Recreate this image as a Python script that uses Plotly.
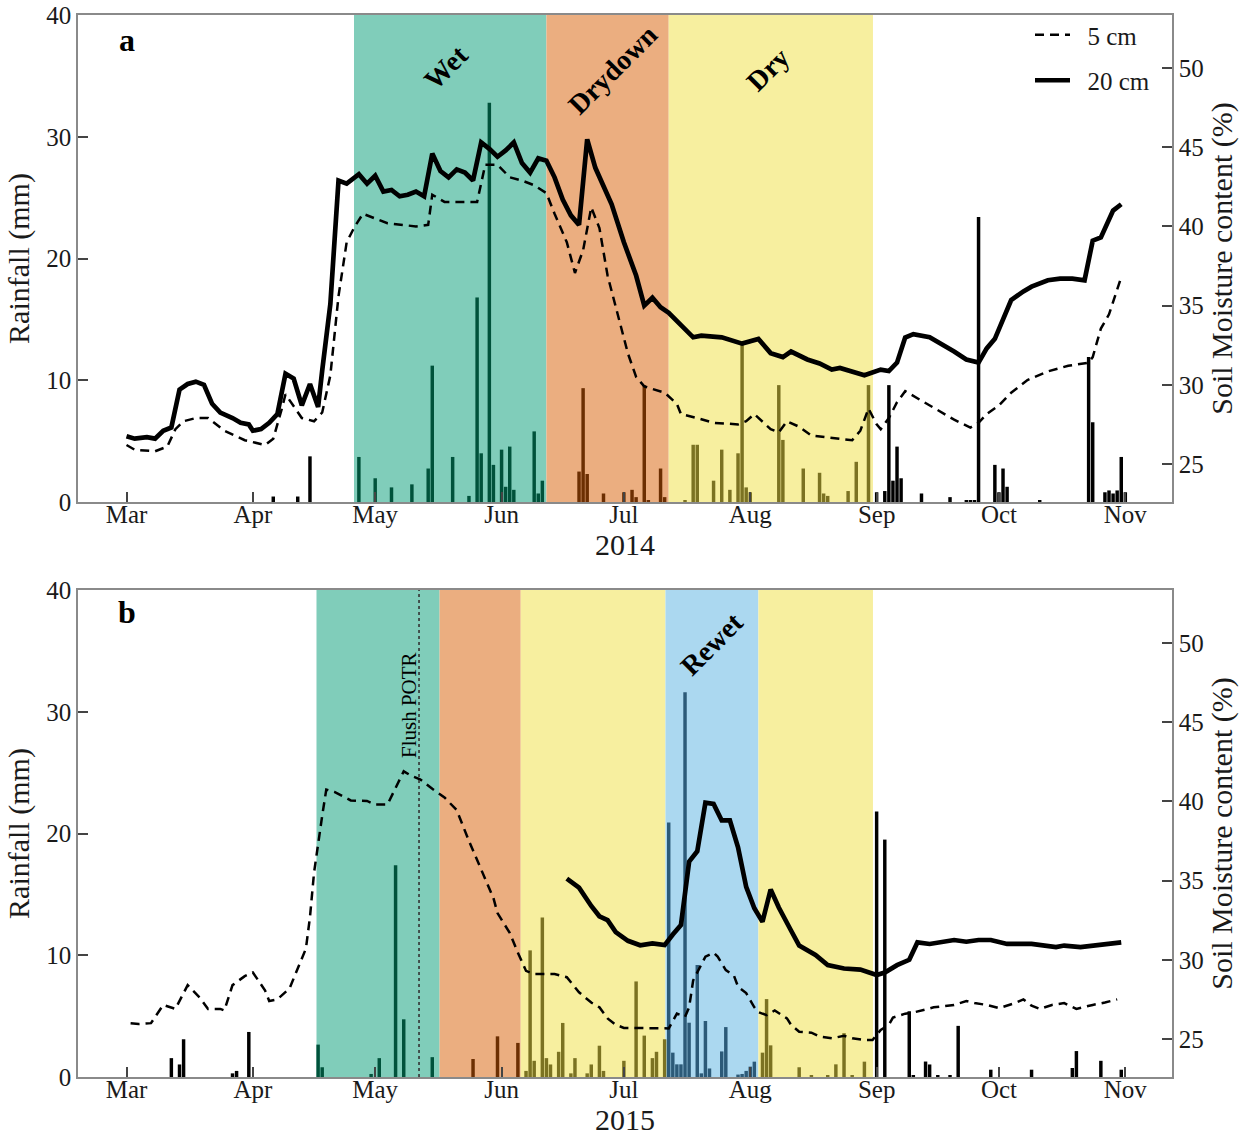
import plotly.graph_objects as go
import pandas as pd

# ---------------- data ----------------
month_labels = ["Mar", "Apr", "May", "Jun", "Jul", "Aug", "Sep", "Oct", "Nov"]
month_days = [0, 31, 61, 92, 122, 153, 184, 214, 245]   # days since 1 March

# Panel a (2014) daily rainfall, days since 1 March
rain14_day = [36, 42, 45, 57, 61, 65, 70, 74, 75, 80, 84, 86, 87, 89, 90, 92, 93, 94, 95, 100, 101, 102,
              111, 112, 113, 117, 122, 124, 125, 127, 128, 131, 132,
              137, 139, 140, 144, 146, 148, 150, 151, 152, 153, 160, 161, 166, 170, 171, 172, 177, 179, 182,
              184, 186, 187, 188, 189, 190, 195, 202, 206, 207, 208, 209, 213, 214, 215, 216, 224, 236, 237,
              240, 241, 242, 243, 244, 245]
rain14_mm = [0.45, 0.45, 3.75, 3.7, 1.95, 1.2, 1.45, 2.75, 11.2, 3.7, 0.5, 16.8, 4.0, 32.8, 3.05, 4.3, 1.25, 4.55, 1.0, 5.8, 0.7, 1.75,
             2.5, 9.35, 2.3, 0.7, 0.8, 1.0, 0.4, 9.6, 0.1, 2.75, 0.4,
             0.1, 4.7, 4.7, 1.75, 4.3, 1.0, 4.0, 13.0, 1.2, 0.8, 9.6, 5.1, 2.75, 2.4, 0.7, 0.5, 0.9, 3.3, 9.6,
             0.8, 0.9, 9.6, 1.75, 4.55, 1.95, 0.7, 0.4, 0.1, 0.1, 0.1, 23.4, 3.05, 0.8, 2.75, 1.25, 0.1, 11.9, 6.55,
             0.8, 0.95, 0.7, 0.95, 3.7, 0.8]

# Panel a soil moisture (%), 5 cm and 20 cm
sm5_14_day = [0, 2, 7, 10, 12, 14, 17, 20, 24, 29, 34, 36, 38, 39, 43, 46, 48, 50, 52, 54,
              56, 58, 64, 67, 71, 74, 75, 78, 82, 86, 88, 91, 94, 97, 100, 103, 105, 108, 110, 112,
              114, 116, 118, 121, 123, 125, 127, 132, 135, 136, 140, 144, 150, 152, 154, 158, 160, 162, 165, 168,
              171, 175, 178, 180, 182, 184, 185, 187, 189, 191, 195, 199, 203, 207, 209, 211, 214, 217, 221, 226,
              231, 236, 237, 239, 241, 244]
sm5_14 = [26.2, 25.9, 25.8, 26.1, 27.2, 27.7, 27.9, 27.9, 27.1, 26.5, 26.2, 26.6, 28.4, 29.4, 27.9, 27.7, 28.25, 30.6, 35.6, 39.0,
          40.0, 40.8, 40.2, 40.1, 40.0, 40.1, 42.0, 41.55, 41.55, 41.55, 43.9, 43.9, 43.1, 42.9, 42.6, 42.1, 40.8, 39.0, 37.06, 38.5,
          41.2, 39.9, 36.9, 34.0, 31.97, 30.5, 29.9, 29.5, 28.8, 28.15, 27.9, 27.6, 27.5, 27.7, 28.15, 27.2, 27.0, 27.7, 27.35, 26.8,
          26.7, 26.6, 26.5, 27.1, 28.5, 27.5, 27.2, 27.9, 28.9, 29.6, 29.0, 28.4, 27.8, 27.3, 27.6, 28.15, 28.7, 29.5, 30.3, 30.85,
          31.2, 31.4, 31.75, 33.55, 34.45, 36.8]
sm20_14_day = [0, 2, 5, 7, 9, 11, 13, 15, 17, 19, 21, 23, 26, 28, 30, 31, 33, 35, 37, 39,
               41, 43, 45, 47, 48, 50, 52, 54, 57, 59, 61, 63, 65, 67, 69, 71, 73, 75, 77, 79,
               81, 83, 85, 87, 89, 91, 93, 95, 97, 99, 101, 103, 105, 107, 109, 111, 113, 115, 119, 122,
               125, 127, 129, 131, 133, 136, 139, 141, 146, 151, 155, 158, 161, 163, 167, 170, 173, 175, 178, 181,
               185, 187, 189, 191, 193, 197, 203, 206, 209, 211, 213, 215, 217, 220, 222, 226, 229, 232, 235, 237,
               239, 242, 244]
sm20_14 = [26.75, 26.6, 26.7, 26.6, 27.1, 27.3, 29.7, 30.05, 30.2, 30.0, 28.8, 28.25, 27.9, 27.6, 27.5, 27.1, 27.2, 27.6, 28.15, 30.7,
           30.4, 28.7, 30.05, 28.6, 30.9, 35.1, 42.9, 42.7, 43.3, 42.7, 43.2, 42.2, 42.3, 41.9, 42.0, 42.2, 41.9, 44.6, 43.5, 43.1,
           43.6, 43.4, 42.9, 45.3, 44.9, 44.4, 44.8, 45.3, 44.0, 43.4, 44.3, 44.15, 43.1, 41.7, 40.7, 40.1, 45.5, 43.7, 41.4, 39.0,
           36.9, 35.0, 35.5, 34.9, 34.55, 33.8, 33.0, 33.1, 33.0, 32.6, 32.9, 32.0, 31.75, 32.1, 31.6, 31.35, 30.96, 31.06, 30.85, 30.6,
           30.96, 30.87, 31.4, 32.99, 33.2, 33.0, 32.1, 31.6, 31.4, 32.3, 32.9, 34.1, 35.35, 35.9, 36.2, 36.6, 36.7, 36.7, 36.6, 39.1,
           39.3, 41.0, 41.4]

# Panel b (2015) daily rainfall
rain15_day = [11, 13, 14, 26, 27, 30, 47, 48, 60, 62, 66, 68, 75, 85, 91, 96,
              98, 99, 100, 102, 103, 104, 106, 107, 109, 110, 113, 114, 116, 117, 122, 125, 127, 129, 130, 132,
              133, 134, 135, 136, 137, 138, 140, 141, 142, 143, 146, 147, 150, 151, 152, 153, 154,
              156, 157, 158, 165, 168, 172, 174, 176, 178, 181,
              184, 186, 192, 193, 196, 197, 199, 202, 204, 212, 222, 232, 233, 239, 244]
rain15_mm = [1.55, 1.03, 3.1, 0.3, 0.5, 3.7, 2.66, 0.8, 0.25, 1.55, 17.4, 4.74, 1.63, 1.48, 3.34, 2.8,
             0.5, 10.4, 1.33, 13.1, 1.55, 1.03, 2.07, 4.44, 0.3, 1.55, 0.3, 1.03, 2.57, 0.5, 1.33, 7.85, 3.4, 1.55, 2.07, 3.1,
             20.9, 2.0, 1.04, 1.04, 31.6, 4.46, 9.2, 0.3, 4.6, 0.7, 2.1, 4.1, 0.2, 0.25, 0.5, 0.85, 1.26,
             2.0, 6.4, 2.6, 0.8, 0.15, 0.15, 1.04, 3.6, 0.15, 1.26,
             21.8, 19.5, 5.4, 0.15, 1.27, 1.03, 0.15, 0.15, 4.2, 0.6, 0.6, 0.74, 2.13, 1.33, 0.6]

sm5_15_day = [1, 3, 6, 9, 12, 15, 18, 20, 23, 24, 26, 29, 31, 34, 35, 37, 40, 42, 44, 45,
              46, 48, 49, 51, 55, 59, 61, 64, 66, 68, 70, 72, 75, 78, 81, 84, 87, 90, 91, 94,
              96, 98, 100, 105, 108, 111, 114, 116, 118, 120, 122, 127, 130, 133, 135, 137, 138, 139, 141, 142,
              144, 145, 147, 149, 150, 152, 154, 155, 157, 159, 162, 163, 165, 168, 170, 173, 176, 178, 181, 183,
              185, 187, 188, 191, 193, 198, 203, 206, 208, 211, 214, 218, 220, 222, 224, 227, 230, 233, 237, 240, 243]
sm5_15 = [26.0, 25.95, 26.0, 27.15, 26.9, 28.4, 27.6, 26.9, 26.9, 26.8, 28.4, 28.97, 29.2, 28.06, 27.4, 27.5, 28.2, 29.5, 30.7, 32.7,
          35.5, 39.1, 40.75, 40.6, 40.06, 40.03, 39.8, 39.8, 40.9, 41.9, 41.6, 41.4, 40.8, 40.25, 39.45, 37.5, 35.7, 33.9, 32.95, 31.7,
          30.45, 29.3, 29.1, 29.1, 28.9, 27.95, 27.3, 27.0, 26.3, 25.9, 25.7, 25.7, 25.67, 25.67, 26.6, 26.4, 27.0, 28.7, 29.7, 30.2,
          30.45, 30.2, 29.35, 29.0, 28.3, 27.9, 27.0, 26.7, 26.5, 26.8, 26.3, 25.9, 25.46, 25.4, 25.15, 25.04, 25.2, 25.04, 24.94, 24.94,
          25.57, 25.9, 26.35, 26.6, 26.67, 27.0, 27.15, 27.4, 27.27, 27.15, 26.95, 27.27, 27.5, 27.1, 26.9, 27.15, 27.27, 26.9, 27.15, 27.3, 27.5]
sm20_15_day = [108, 111, 114, 116, 118, 120, 123, 126, 129, 132, 134, 136, 138, 140, 142, 144, 146, 148, 150, 152,
               154, 156, 158, 160, 163, 165, 169, 172, 176, 180, 184, 186, 189, 192, 194, 197, 203, 206, 209, 212,
               216, 222, 228, 230, 234, 237, 241, 244]
sm20_15 = [35.13, 34.55, 33.4, 32.75, 32.5, 31.75, 31.2, 30.92, 31.04, 30.93, 31.6, 32.2, 36.2, 36.85, 39.92, 39.84, 38.8, 38.8, 37.1, 34.6,
           33.25, 32.4, 34.44, 33.3, 31.85, 30.9, 30.3, 29.67, 29.45, 29.38, 29.04, 29.2, 29.66, 30.0, 31.1, 31.0, 31.25, 31.14, 31.25, 31.25,
           31.0, 31.0, 30.8, 30.9, 30.8, 30.9, 30.96, 31.1]

# Phases: (label, start day, end day)
phases14 = [("Wet", 55.8, 103.0), ("Drydown", 103.0, 133.0), ("Dry", 133.0, 183.1)]
phases15 = [("Wet", 46.6, 76.8), ("Drydown", 76.8, 96.7), ("Dry", 96.7, 132.2),
            ("Rewet", 132.2, 155.0), ("Dry", 155.0, 183.1)]
flush15_day = 71.75

# ---------------- styling ----------------
phase_bg = {"Wet": "#80CDBA", "Drydown": "#EBAE80", "Dry": "#F7EF9F", "Rewet": "#ABD8F0"}
phase_bar = {"Wet": "#00523B", "Drydown": "#6C2F02", "Dry": "#7B7222", "Rewet": "#2C5A78"}
FONT = "Liberation Serif"
W, H = 1250, 1136
L, R, T, B = 78, 78, 15, 59
PW, PH = W - L - R, H - T - B
NBSP = "\u00a0"


def px(xp):
    return (xp - L) / PW


def py(yp):
    return (H - B - yp) / PH


def to_dates(year, days):
    base = pd.Timestamp(f"{year}-03-01")
    return [base + pd.Timedelta(days=float(d)) for d in days]


def bar_colors(days, phases):
    out = []
    for d in days:
        c = "#000000"
        for name, s, e in phases:
            if s <= d < e:
                c = phase_bar[name]
        out.append(c)
    return out


fig = go.Figure()
DAY_MS = 86400000

panels = [
    (2014, rain14_day, rain14_mm, sm5_14_day, sm5_14, sm20_14_day, sm20_14, phases14, "x", "y", "y2", True),
    (2015, rain15_day, rain15_mm, sm5_15_day, sm5_15, sm20_15_day, sm20_15, phases15, "x2", "y3", "y4", False),
]

for (yr, rd, rmm, d5, s5, d20, s20, ph, xa, ya, ya2, leg) in panels:
    fig.add_trace(go.Bar(x=to_dates(yr, rd), y=rmm, width=0.85 * DAY_MS,
                         marker=dict(color=bar_colors(rd, ph), line=dict(width=0)),
                         xaxis=xa, yaxis=ya, showlegend=False))
    fig.add_trace(go.Scatter(x=to_dates(yr, d5), y=s5, mode="lines", name=NBSP * 2 + "5 cm",
                             line=dict(color="black", width=2.5, dash="9px,6px"),
                             xaxis=xa, yaxis=ya2, showlegend=leg, legendgroup="g5"))
    fig.add_trace(go.Scatter(x=to_dates(yr, d20), y=s20, mode="lines", name=NBSP * 2 + "20 cm",
                             line=dict(color="black", width=4.7),
                             xaxis=xa, yaxis=ya2, showlegend=leg, legendgroup="g20"))
    for name, s, e in ph:
        d0, d1 = to_dates(yr, [s, e])
        fig.add_shape(type="rect", xref=xa, yref=f"{ya} domain", x0=d0, x1=d1, y0=0, y1=1,
                      fillcolor=phase_bg[name], line=dict(width=0), layer="below")

fd = to_dates(2015, [flush15_day])[0]
fig.add_shape(type="line", xref="x2", yref="y3 domain", x0=fd, x1=fd, y0=0, y1=1,
              line=dict(color="#333333", width=1.6, dash="dot"), layer="above")

tick_font = dict(family=FONT, size=25, color="#1a1a1a")
title_font = dict(family=FONT, size=30, color="#1a1a1a")
axis_common = dict(showline=True, linecolor="#8a8a8a", linewidth=1.5, ticks="inside", ticklen=10,
                   tickwidth=1.5, tickcolor="#444444", showgrid=False, zeroline=False,
                   tickfont=tick_font, automargin=False)

x_range14 = to_dates(2014, [-11.9, 256.45])
x_range15 = to_dates(2015, [-11.9, 256.45])

fig.update_layout(
    width=W, height=H,
    margin=dict(l=L, r=R, t=T, b=B),
    plot_bgcolor="white", paper_bgcolor="white",
    barmode="overlay",
    xaxis=dict(axis_common, type="date", range=x_range14, mirror=True, anchor="y",
               tickvals=to_dates(2014, month_days), ticktext=month_labels, ticklabelstandoff=-11,
               title=dict(text="2014", font=title_font, standoff=4)),
    yaxis=dict(axis_common, domain=[py(502), 1.0], range=[0, 40], tickvals=[0, 10, 20, 30, 40], anchor="x",
               title=dict(text="Rainfall (mm)", font=title_font, standoff=8)),
    yaxis2=dict(axis_common, overlaying="y", side="right", anchor="x", range=[22.6, 53.35],
                tickvals=[25, 30, 35, 40, 45, 50],
                title=dict(text="Soil Moisture content (%)", font=title_font, standoff=8)),
    xaxis2=dict(axis_common, type="date", range=x_range15, mirror=True, anchor="y3",
                tickvals=to_dates(2015, month_days), ticktext=month_labels, ticklabelstandoff=-11,
                title=dict(text="2015", font=title_font, standoff=4)),
    yaxis3=dict(axis_common, domain=[0.0, py(590)], range=[0, 40], tickvals=[0, 10, 20, 30, 40], anchor="x2",
                title=dict(text="Rainfall (mm)", font=title_font, standoff=8)),
    yaxis4=dict(axis_common, overlaying="y3", side="right", anchor="x2", range=[22.6, 53.35],
                tickvals=[25, 30, 35, 40, 45, 50],
                title=dict(text="Soil Moisture content (%)", font=title_font, standoff=8)),
    legend=dict(x=px(1030), y=py(12), xanchor="left", yanchor="top", bgcolor="rgba(0,0,0,0)",
                font=dict(family=FONT, size=25, color="#1a1a1a"), tracegroupgap=10, itemwidth=35),
    font=dict(family=FONT),
)

ann = [
    ("a", 127, 40, 0, 32, True),
    ("b", 127, 612, 0, 32, True),
    ("Wet", 446, 68, -45, 28, True),
    ("Drydown", 613, 70, -45, 28, True),
    ("Dry", 768, 70, -45, 28, True),
    ("Rewet", 711, 644, -45, 28, True),
    ("Flush POTR", 409, 705, -90, 21, False),
]
for text, xp, yp, ang, size, bold in ann:
    fig.add_annotation(text=f"<b>{text}</b>" if bold else text, x=px(xp), y=py(yp), xref="paper", yref="paper",
                       showarrow=False, textangle=ang, xanchor="center", yanchor="middle",
                       font=dict(family=FONT, size=size, color="black"))

fig.write_html("out.html")
